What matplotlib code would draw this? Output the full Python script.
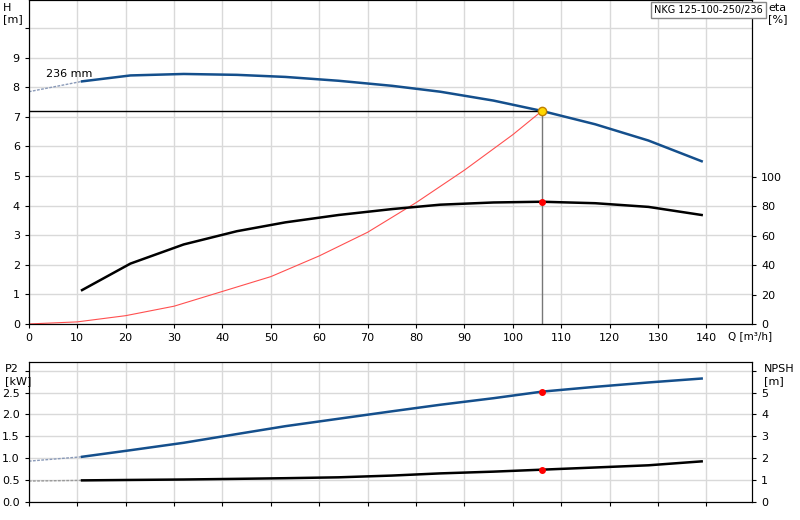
import matplotlib
matplotlib.use("Agg")
import matplotlib.pyplot as plt

q_pts = [11, 21, 32, 43, 53, 64, 75, 85, 96, 106, 117, 128, 139]
h_vals = [8.2, 8.4, 8.45, 8.42, 8.35, 8.22, 8.05, 7.85, 7.55, 7.2, 6.75, 6.2, 5.5]
eta_vals = [23, 41, 54, 63, 69, 74, 78, 81, 82.5, 83, 82, 79.5, 74]
p2_vals = [1.03, 1.18, 1.35, 1.55, 1.73, 1.9, 2.07, 2.22, 2.37, 2.52, 2.63, 2.73, 2.82]
npsh_vals = [0.98, 1.0, 1.02, 1.05, 1.08, 1.12, 1.2, 1.3, 1.38, 1.47, 1.57, 1.67, 1.85]
h_ext = ([0, 11], [7.85, 8.2])
p2_ext = ([0, 11], [0.93, 1.03])
npsh_ext = ([0, 11], [0.95, 0.98])
sys_q = [0, 10, 20, 30, 40, 50, 60, 70, 80, 90, 100, 106]
sys_h = [0, 0.07, 0.28, 0.6, 1.1, 1.6, 2.3, 3.1, 4.1, 5.2, 6.4, 7.2]
duty_q, duty_h, duty_eta, duty_p2, duty_npsh = 106, 7.2, 83, 2.52, 1.47

BLUE = "#144f8c"
XMAX = 149.4
fig = plt.figure(figsize=(8, 5.2), dpi=100)
ax = fig.add_axes([0.036, 0.377, 0.904, 0.623])
ax.set_xlim(0, XMAX); ax.set_ylim(0, 10.95)
ax.set_xticks(range(0, 150, 10)); ax.set_yticks(range(0, 11))
ax.set_yticklabels([str(i) for i in range(10)] + [""])
ax.grid(color="#d9d9d9", lw=1)
ax.tick_params(labelsize=8, length=3, direction="out")
fig.text(0.004, 0.995, "H\n[m]", ha="left", va="top", fontsize=8)
ax.text(144.5, -0.25, "Q [m³/h]", fontsize=7.5, va="top")
ax.plot(*h_ext, ls=(0, (2, 1)), color="#8a9ab8", lw=1)
ax.plot(q_pts, h_vals, color=BLUE, lw=1.8)
ax.text(3.5, 8.35, "236 mm", fontsize=8)
ax.plot(sys_q, sys_h, color="#ff5050", lw=0.8)
ax.plot([0, duty_q], [duty_h, duty_h], color="black", lw=1)
ax.plot([duty_q, duty_q], [0, duty_h], color="#777777", lw=1)
ax2 = ax.twinx()
ax2.set_ylim(0, 220)
ax2.set_yticks(range(0, 101, 20))
ax2.tick_params(labelsize=8, length=3)
ax2.plot(q_pts, eta_vals, color="black", lw=1.8)
ax2.plot(duty_q, duty_eta, "o", color="red", ms=4)
ax.plot(duty_q, duty_h, "o", color="#ffd700", mec="#c08000", ms=6, zorder=5)
fig.text(0.96, 0.995, "eta\n[%]", ha="left", va="top", fontsize=8)
fig.text(0.818, 0.99, "NKG 125-100-250/236", fontsize=7, va="top",
         bbox=dict(facecolor="white", edgecolor="#888888", boxstyle="square,pad=0.3"))

bx = fig.add_axes([0.036, 0.035, 0.904, 0.269])
bx.set_xlim(0, XMAX); bx.set_ylim(0, 3.2)
bx.set_xticks(range(0, 150, 10)); bx.set_xticklabels([])
bx.set_yticks([0, 0.5, 1.0, 1.5, 2.0, 2.5, 3.0])
bx.set_yticklabels(["0.0", "0.5", "1.0", "1.5", "2.0", "2.5", ""])
bx.grid(color="#d9d9d9", lw=1)
bx.tick_params(labelsize=8, length=3)
fig.text(0.006, 0.30, "P2\n[kW]", ha="left", va="top", fontsize=8)
bx.plot(*p2_ext, ls=(0, (2, 1)), color="#8a9ab8", lw=1)
bx.plot(q_pts, p2_vals, color=BLUE, lw=1.8)
bx.plot(duty_q, duty_p2, "o", color="red", ms=4)
bx2 = bx.twinx()
bx2.set_ylim(0, 6.4)
bx2.set_yticks(range(0, 7)); bx2.set_yticklabels([str(i) for i in range(6)] + [""])
bx2.tick_params(labelsize=8, length=3)
bx2.plot(*npsh_ext, ls=(0, (2, 1)), color="#999999", lw=1)
bx2.plot(q_pts, npsh_vals, color="black", lw=1.8)
bx2.plot(duty_q, duty_npsh, "o", color="red", ms=4)
fig.text(0.955, 0.30, "NPSH\n[m]", ha="left", va="top", fontsize=8)
fig.savefig("out.png")
